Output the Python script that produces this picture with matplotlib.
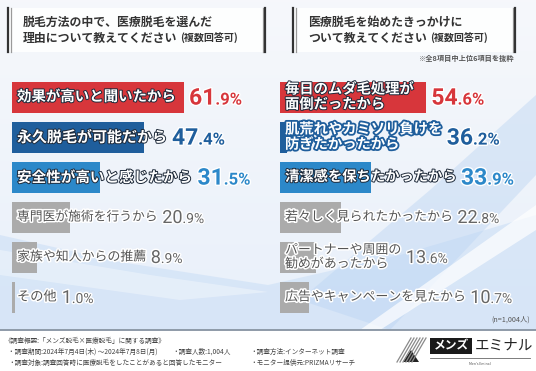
import numpy as np
import matplotlib.pyplot as plt
import matplotlib.patheffects as pe
from matplotlib.patches import Rectangle, Polygon

plt.rcParams['font.family'] = ['Noto Sans CJK JP', 'DejaVu Sans']

W, H = 536, 371

# data
left_labels = ['効果が高いと聞いたから', '永久脱毛が可能だから', '安全性が高いと感じたから',
               '専門医が施術を行うから', '家族や知人からの推薦', 'その他']
left_values = [61.9, 47.4, 31.5, 20.9, 8.9, 1.0]
right_labels = ['毎日のムダ毛処理が\n面倒だったから', '肌荒れやカミソリ負けを\n防ぎたかったから',
                '清潔感を保ちたかったから', '若々しく見られたかったから',
                'パートナーや周囲の\n勧めがあったから', '広告やキャンペーンを見たから']
right_values = [54.6, 36.2, 33.9, 22.8, 13.6, 10.7]

left_title = ['脱毛方法の中で、医療脱毛を選んだ', '理由について教えてください', '(複数回答可)']
right_title = ['医療脱毛を始めたきっかけに', 'ついて教えてください', '(複数回答可)']

RED, NAVY, BLUE, GRAY = '#D7363B', '#1F5E9C', '#2C88C9', '#ABABAB'
bar_colors = [RED, NAVY, BLUE, GRAY, GRAY, GRAY]
num_colors = [RED, NAVY, BLUE, '#666666', '#666666', '#666666']
right_edge_only = [False, True, False, False, False, False]

fig = plt.figure(figsize=(W / 100, H / 100), dpi=100)

# background
bg = fig.add_axes([0, 0, 1, 1], zorder=0)
bg.set_xlim(0, W)
bg.set_ylim(H, 0)
bg.axis('off')
yy, xx = np.mgrid[0:H, 0:W]
t = yy / H
img = np.zeros((H, W, 3))
img[..., 0] = 0.965 - 0.06 * t
img[..., 1] = 0.972 - 0.035 * t
img[..., 2] = 0.985 - 0.005 * t
bg.imshow(img, extent=[0, W, H, 0], aspect='auto', zorder=0)
bg.add_patch(Polygon([[0, 235], [120, 262], [268, 285], [400, 255], [536, 215], [536, 330], [0, 330]],
                     closed=True, fc='#C9DDF6', ec='none', alpha=0.55, zorder=1))
bg.add_patch(Polygon([[390, 330], [536, 175], [536, 95], [430, 190], [300, 300]],
                     closed=True, fc='#BCD5F3', ec='none', alpha=0.45, zorder=1))
bg.add_patch(Polygon([[380, 330], [536, 230], [536, 205], [360, 330]],
                     closed=True, fc='white', ec='none', alpha=0.7, zorder=2))
bg.add_patch(Polygon([[0, 250], [150, 275], [268, 292], [180, 300], [0, 275]],
                     closed=True, fc='white', ec='none', alpha=0.35, zorder=2))

# footer panel
bg.add_patch(Rectangle((0, 330), W, 41, fc='white', ec='none', zorder=3))
bg.plot([0, W], [330, 330], color='#8E9AA8', lw=1.4, zorder=4)

# title boxes
for x0, x1 in [(7, 266), (292, 516)]:
    bg.add_patch(Rectangle((x0, 8), x1 - x0, 44, fc='white', ec='none', alpha=0.9, zorder=3))
    bg.plot([x0 + 1, x0 + 1], [8, 52], color='#333333', lw=1.6, zorder=4)
    bg.plot([x0 + 3.5, x0 + 3.5], [8, 52], color='#9A9A9A', lw=0.9, zorder=4)
    bg.plot([x1 - 3.5, x1 - 3.5], [8, 52], color='#9A9A9A', lw=0.9, zorder=4)
    bg.plot([x1 - 1, x1 - 1], [8, 52], color='#333333', lw=1.6, zorder=4)

# bar axes
def bar_axes(left_px, scale):
    ax = fig.add_axes([left_px / W, (H - 317) / H, 250 / W, 240 / H], zorder=5)
    ax.set_xlim(0, 250 / scale)
    ax.set_ylim(5.5, -0.5)
    ax.axis('off')
    ax.patch.set_alpha(0)
    return ax

axL = bar_axes(12, 2.78)
axR = bar_axes(280, 2.68)
axL.barh(range(6), left_values, height=0.775, color=bar_colors)
r_drawn = [2.6 if e else v for v, e in zip(right_values, right_edge_only)]
axR.barh(range(6), r_drawn, height=0.775, color=bar_colors)

# overlay for text
ov = fig.add_axes([0, 0, 1, 1], zorder=10)
ov.set_xlim(0, W)
ov.set_ylim(H, 0)
ov.axis('off')
ov.patch.set_alpha(0)

renderer = fig.canvas.get_renderer()

def width_px(txt):
    return txt.get_window_extent(renderer).width

def stroke(c, lw):
    return [pe.withStroke(linewidth=lw, foreground=c)]

# titles
for x, lines in [(23, left_title), (308, right_title)]:
    ov.text(x, 22, lines[0], fontsize=8.6, color='#333333', va='center', fontweight='bold')
    t2 = ov.text(x, 38, lines[1], fontsize=8.6, color='#333333', va='center', fontweight='bold')
    ov.text(x + width_px(t2) + 3, 38.5, lines[2], fontsize=7.2, color='#333333', va='center',
            fontweight='bold')
ov.text(515, 58, '※全8項目中上位6項目を抜粋', fontsize=5.2, color='#555555', ha='right',
        va='center', fontweight='bold')

def draw_panel(ax, labels, values, edge_only, sizes):
    x_lab = ax.transData.transform((0, 0))[0] + 5
    for i, (lab, v) in enumerate(zip(labels, values)):
        yc = 97 + 40 * i
        gray = bar_colors[i] == GRAY
        fs = sizes[i]
        if gray:
            tl = ov.text(x_lab, yc, lab, fontsize=fs, color='#555555', va='center',
                         linespacing=1.1, path_effects=stroke('white', 2.2))
        elif edge_only[i]:
            tl = ov.text(x_lab, yc, lab, fontsize=fs, color='white', va='center',
                         fontweight='bold', linespacing=1.1, path_effects=stroke(NAVY, 2.6))
        else:
            tl = ov.text(x_lab, yc, lab, fontsize=fs, color='white', va='center',
                         fontweight='bold', linespacing=1.1,
                         path_effects=stroke('#1E2A3A', 1.4))
        lab_end = tl.get_window_extent(renderer).x1
        bar_end = ax.transData.transform((v, 0))[0]
        xn = max(lab_end, bar_end) + 5
        big, small = (16.5, 12) if not gray else (13, 10)
        base = yc + (7.6 if not gray else 6.0)
        whole, dec = f'{v:.1f}'.split('.')
        wt = 'bold' if not gray else 'normal'
        tn = ov.text(xn, base, whole, fontsize=big, color=num_colors[i], va='baseline',
                     family='Roboto', fontweight=wt, path_effects=stroke('white', 2))
        ov.text(xn + width_px(tn), base, '.' + dec + '%', fontsize=small, color=num_colors[i],
                va='baseline', family='Roboto', fontweight=wt, path_effects=stroke('white', 2))

draw_panel(axL, left_labels, left_values, [False] * 6, [10.4, 10.8, 10.5, 9.2, 9.3, 9.5])
draw_panel(axR, right_labels, right_values, right_edge_only, [10.3, 10.3, 10.3, 9.3, 9.3, 9.3])

ov.text(530, 320, '(n=1,004人)', fontsize=5.2, color='#555555', ha='right', va='center')

# footer
fcol = '#444444'
fs_f = 4.8
ov.text(4, 341, '《調査概要:「メンズ脱毛×医療脱毛」に関する調査》', fontsize=fs_f, color=fcol, va='center')
ov.text(8, 352, '・調査期間:2024年7月4日(木) ～2024年7月8日(月)', fontsize=fs_f, color=fcol, va='center')
ov.text(172, 352, '・調査人数:1,004人', fontsize=fs_f, color=fcol, va='center')
ov.text(250, 352, '・調査方法:インターネット調査', fontsize=fs_f, color=fcol, va='center')
ov.text(8, 363, '・調査対象:調査回答時に医療脱毛をしたことがあると回答したモニター', fontsize=fs_f, color=fcol,
        va='center')
ov.text(250, 363, '・モニター提供元:PRIZMAリサーチ', fontsize=fs_f, color=fcol, va='center')

# logo
for k in range(6):
    ov.plot([397 + 3 * k, 411 + 3 * k], [362, 338], color='#8A8A8A', lw=0.9)
ov.add_patch(Polygon([[403, 362], [411, 350], [419, 362]], closed=True, fc='#222222', ec='none'))
ov.add_patch(Rectangle((430, 338), 42, 16, fc='#1A1A1A', ec='none'))
ov.text(451, 346, 'メンズ', fontsize=8.5, color='white', ha='center', va='center', fontweight='bold')
ov.text(475, 346, 'エミナル', fontsize=10.5, color='#222222', va='center')
ov.plot([430, 530], [358, 358], color='#666666', lw=0.6)
ov.text(480, 364, "Men's Eminal", fontsize=2.5, color='#555555', ha='center', va='center')

fig.savefig('out.png', dpi=100)
